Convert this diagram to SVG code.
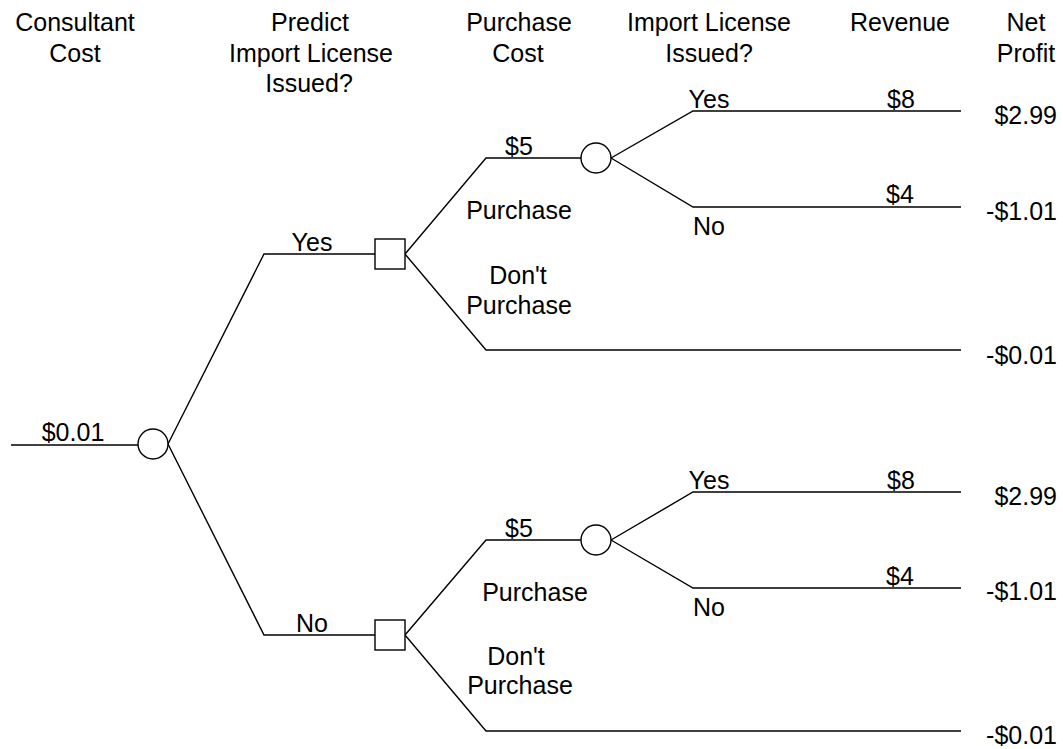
<svg xmlns="http://www.w3.org/2000/svg" width="1063" height="749" viewBox="0 0 1063 749">
<style>
text{font-family:"Liberation Sans",Arial,sans-serif;font-size:25px;fill:#000;text-anchor:middle}
.r{text-anchor:end}
.ln{fill:none;stroke:#000;stroke-width:1.4}
.nd{fill:#fff;stroke:#000;stroke-width:1.4}
</style>
<rect width="1063" height="749" fill="#fff"/>
<g id="headers">
<text x="75" y="31">Consultant</text>
<text x="75" y="62">Cost</text>
<text x="310" y="31">Predict</text>
<text x="311" y="62">Import License</text>
<text x="309" y="92">Issued?</text>
<text x="519" y="31">Purchase</text>
<text x="518" y="62">Cost</text>
<text x="709" y="31">Import License</text>
<text x="709" y="62">Issued?</text>
<text x="900" y="31">Revenue</text>
<text x="1026" y="31">Net</text>
<text x="1026" y="62">Profit</text>
</g>
<g id="connectors">
<path class="ln" d="M11,445H138"/>
<path class="ln" d="M168,444L264,254H375"/>
<path class="ln" d="M168,444L264,635H375"/>
<path class="ln" d="M405,254L486,158H581"/>
<path class="ln" d="M405,254L486,350H961"/>
<path class="ln" d="M611,158L693,111H961"/>
<path class="ln" d="M611,158L693,207H961"/>
<path class="ln" d="M405,635L486,540H581"/>
<path class="ln" d="M405,635L486,731H961"/>
<path class="ln" d="M611,540L693,492H961"/>
<path class="ln" d="M611,540L693,588H961"/>
</g>
<g id="labels">
<text x="73" y="441">$0.01</text>
<text x="312" y="251">Yes</text>
<text x="312" y="632">No</text>
<text x="519" y="155">$5</text>
<text x="519" y="219">Purchase</text>
<text x="518" y="284">Don't</text>
<text x="519" y="314">Purchase</text>
<text x="709" y="108">Yes</text>
<text x="709" y="235">No</text>
<text x="901" y="108">$8</text>
<text x="900" y="203">$4</text>
<text x="519" y="537">$5</text>
<text x="535" y="601">Purchase</text>
<text x="516" y="665">Don't</text>
<text x="520" y="694">Purchase</text>
<text x="709" y="489">Yes</text>
<text x="709" y="616">No</text>
<text x="901" y="489">$8</text>
<text x="900" y="585">$4</text>
</g>
<g id="payoffs">
<text class="r" x="1057" y="124">$2.99</text>
<text class="r" x="1057" y="220">-$1.01</text>
<text class="r" x="1057" y="364">-$0.01</text>
<text class="r" x="1057" y="505">$2.99</text>
<text class="r" x="1057" y="600">-$1.01</text>
<text class="r" x="1057" y="744">-$0.01</text>
</g>
<g id="root-chance"><circle class="nd" cx="153" cy="444" r="15"/></g>
<g id="decision-yes"><rect class="nd" x="375" y="239" width="30" height="30"/></g>
<g id="decision-no"><rect class="nd" x="375" y="620" width="30" height="30"/></g>
<g id="chance-top"><circle class="nd" cx="596" cy="158" r="15"/></g>
<g id="chance-bottom"><circle class="nd" cx="596" cy="540" r="15"/></g>
</svg>
